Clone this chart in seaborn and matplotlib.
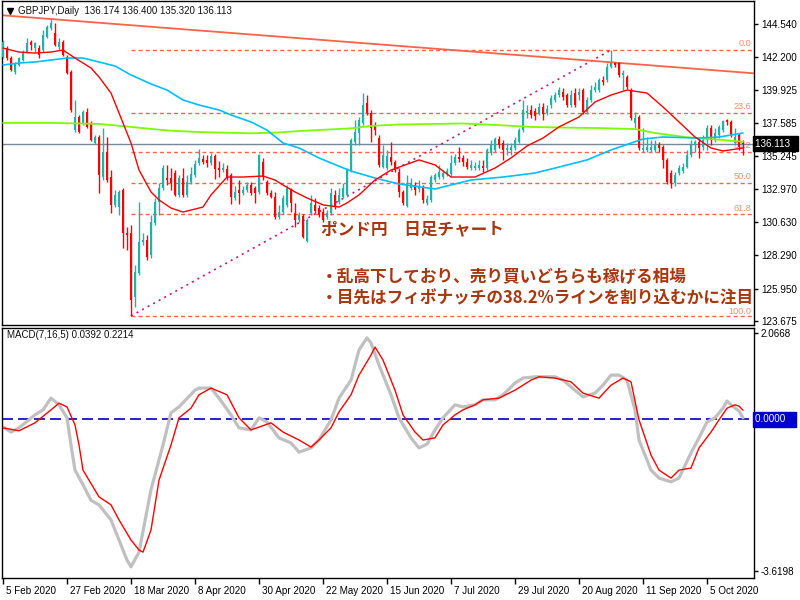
import matplotlib
matplotlib.use("Agg")
import matplotlib.pyplot as plt
import matplotlib.transforms as mtrans
import numpy as np
import seaborn as sns

# ---------------- data ----------------
tick_labels = ["5 Feb 2020", "27 Feb 2020", "18 Mar 2020", "8 Apr 2020", "30 Apr 2020",
               "22 May 2020", "15 Jun 2020", "7 Jul 2020", "29 Jul 2020", "20 Aug 2020",
               "11 Sep 2020", "5 Oct 2020"]
tick_bars = [0, 16, 32, 48, 64, 80, 96, 112, 128, 144, 160, 176]

price_ticks = [144.540, 142.200, 139.925, 137.585, 135.245, 132.970, 130.630, 128.290, 125.950, 123.675]
macd_ticks = [2.0668, -3.6198]

opens = [
    142.22, 142.85, 142.15, 141.17, 141.66, 142.01, 142.57, 143.28, 142.85, 142.85,
    142.71, 143.63, 144.26, 143.91, 142.92, 143.28, 142.22, 141.17, 137.09, 138.01,
    137.59, 138.36, 137.59, 136.18, 136.60, 133.79, 135.55, 133.79, 131.83, 131.68,
    132.88, 129.86, 129.86, 125.36, 127.05, 129.23, 129.37, 128.31, 130.56, 132.04,
    133.02, 133.72, 133.72, 134.07, 132.53, 133.72, 132.53, 133.44, 133.93, 134.78,
    135.06, 134.99, 134.78, 135.27, 134.42, 134.28, 134.35, 133.93, 132.32, 132.88,
    132.67, 132.88, 133.23, 133.02, 132.74, 134.85, 133.44, 132.67, 132.39, 130.98,
    131.33, 131.83, 132.88, 131.26, 130.77, 131.05, 129.30, 131.26, 131.83, 131.61,
    131.33, 130.98, 131.26, 132.53, 132.04, 132.39, 132.53, 134.28, 136.25, 136.88,
    137.59, 138.99, 138.29, 137.45, 136.53, 134.49, 134.42, 135.20, 134.85, 134.14,
    132.74, 131.75, 133.02, 133.23, 132.95, 133.09, 131.97, 132.18, 133.58, 133.79,
    133.79, 134.00, 134.00, 134.78, 135.20, 135.13, 134.85, 134.42, 134.42, 134.42,
    134.56, 134.42, 135.47, 135.69, 136.46, 136.18, 135.69, 135.69, 135.83, 136.25,
    137.09, 138.29, 138.50, 138.43, 138.29, 138.71, 138.29, 138.85, 139.20, 139.55,
    139.76, 139.55, 138.85, 139.69, 139.55, 139.90, 138.36, 139.20, 139.90, 139.90,
    140.61, 140.61, 141.52, 141.80, 141.80, 140.96, 140.82, 139.90, 137.59, 138.01,
    135.69, 135.69, 135.69, 135.69, 136.04, 135.90, 134.99, 134.07, 133.37, 134.07,
    134.21, 134.49, 135.34, 136.04, 136.25, 135.90, 136.39, 137.23, 136.39, 136.74,
    137.09, 137.80, 137.66, 136.18, 136.74, 136.174]
highs = [
    143.42, 143.00, 142.29, 141.87, 142.22, 142.71, 143.56, 143.42, 143.28, 143.07,
    144.12, 144.47, 144.89, 144.61, 143.56, 143.42, 142.36, 141.31, 139.20, 138.15,
    138.50, 138.64, 137.73, 136.74, 136.74, 137.23, 136.60, 134.28, 132.88, 132.88,
    133.02, 130.28, 130.42, 127.61, 132.04, 129.86, 129.72, 131.12, 132.32, 133.37,
    134.64, 134.64, 134.42, 134.28, 133.93, 134.42, 133.93, 134.49, 134.99, 135.76,
    135.34, 135.34, 135.47, 135.40, 134.92, 134.78, 134.64, 134.07, 133.16, 133.58,
    133.16, 133.44, 133.44, 133.16, 135.40, 135.13, 133.58, 132.88, 132.74, 131.83,
    132.53, 133.23, 133.02, 131.97, 131.33, 131.19, 130.91, 132.53, 132.32, 131.83,
    131.61, 131.47, 133.02, 132.88, 133.02, 133.37, 134.42, 136.53, 137.80, 138.01,
    139.69, 139.55, 138.50, 137.66, 136.74, 136.04, 135.69, 136.25, 134.99, 134.42,
    132.88, 133.93, 133.72, 133.44, 133.58, 133.23, 132.53, 133.93, 134.07, 134.64,
    134.28, 134.42, 135.34, 135.40, 135.90, 135.34, 135.13, 134.99, 134.85, 134.99,
    134.99, 135.83, 136.39, 136.60, 136.67, 136.39, 136.18, 136.18, 136.60, 137.23,
    139.20, 138.85, 138.85, 138.64, 138.99, 138.99, 138.85, 139.55, 139.76, 140.11,
    140.04, 139.69, 139.90, 140.04, 140.04, 140.04, 139.41, 140.25, 140.46, 140.75,
    140.89, 141.80, 142.71, 141.87, 141.87, 141.31, 140.96, 140.04, 138.36, 138.15,
    137.23, 136.60, 136.39, 136.39, 136.25, 136.04, 135.13, 134.28, 134.14, 134.64,
    134.78, 135.69, 136.39, 136.39, 136.53, 136.74, 137.45, 137.45, 137.23, 137.45,
    137.80, 137.87, 137.80, 137.23, 136.88, 136.400]
lows = [
    142.15, 142.01, 141.24, 141.03, 141.59, 141.94, 142.50, 142.71, 142.57, 142.15,
    142.57, 143.56, 144.12, 143.00, 142.71, 142.29, 141.03, 138.36, 136.95, 136.88,
    137.45, 137.23, 136.32, 136.11, 132.67, 133.58, 133.44, 131.26, 131.68, 131.12,
    128.80, 128.66, 124.03, 124.66, 126.91, 129.01, 127.96, 128.10, 130.42, 131.12,
    132.88, 133.23, 132.88, 132.46, 132.39, 132.39, 132.39, 133.30, 133.79, 134.64,
    134.71, 134.49, 134.64, 133.65, 133.79, 134.14, 133.58, 131.90, 132.18, 131.90,
    132.53, 132.74, 132.53, 131.97, 132.60, 133.58, 132.53, 132.32, 130.84, 130.84,
    131.19, 131.68, 131.33, 130.28, 130.63, 129.51, 129.23, 131.12, 131.26, 130.98,
    130.63, 130.84, 131.12, 131.54, 131.90, 132.32, 132.39, 134.14, 136.04, 136.04,
    137.45, 138.15, 136.25, 136.74, 134.49, 134.42, 134.28, 134.64, 134.14, 132.39,
    131.83, 131.68, 132.88, 132.53, 132.74, 131.97, 131.83, 132.04, 133.44, 133.65,
    133.65, 133.86, 133.86, 134.64, 134.85, 134.56, 134.35, 134.28, 134.28, 134.28,
    134.14, 134.28, 135.34, 135.55, 135.83, 134.99, 135.34, 135.34, 135.69, 136.18,
    136.95, 137.94, 137.94, 137.80, 138.15, 137.80, 138.15, 138.64, 139.06, 139.41,
    139.20, 138.71, 138.71, 138.71, 139.20, 138.22, 138.22, 139.06, 139.76, 139.76,
    140.25, 140.46, 141.45, 141.52, 140.82, 139.90, 139.97, 137.80, 137.23, 135.69,
    135.55, 135.55, 135.55, 135.55, 135.55, 134.42, 133.30, 133.02, 133.16, 133.93,
    134.07, 134.42, 135.20, 135.55, 135.13, 135.69, 135.69, 136.04, 136.25, 136.53,
    136.95, 137.45, 136.60, 136.04, 135.69, 135.320]
closes = [
    143.28, 142.15, 141.31, 141.80, 142.15, 142.57, 143.21, 143.07, 143.21, 142.36,
    143.77, 144.33, 144.61, 143.07, 143.28, 142.36, 141.10, 138.50, 138.01, 136.95,
    138.36, 137.31, 136.39, 136.60, 133.93, 135.55, 133.58, 131.83, 132.53, 132.74,
    129.86, 129.72, 125.15, 127.12, 129.23, 129.37, 128.17, 130.63, 132.04, 133.02,
    134.42, 133.58, 133.37, 132.53, 133.72, 132.53, 133.44, 134.00, 134.71, 135.13,
    134.85, 134.78, 135.27, 134.35, 134.28, 134.42, 133.79, 132.39, 132.74, 132.67,
    132.88, 133.23, 132.67, 132.67, 135.34, 133.79, 132.67, 132.39, 130.98, 131.33,
    132.32, 133.02, 131.97, 130.77, 131.12, 129.58, 130.77, 131.97, 131.40, 131.12,
    130.77, 131.26, 132.67, 131.68, 132.53, 133.02, 134.28, 136.39, 136.95, 137.80,
    138.85, 138.29, 137.23, 137.09, 134.64, 135.34, 135.27, 134.85, 134.28, 132.74,
    131.97, 133.37, 133.37, 132.88, 133.09, 132.18, 132.25, 133.79, 133.93, 134.14,
    134.07, 134.21, 134.78, 135.20, 135.06, 134.85, 134.49, 134.64, 134.56, 134.64,
    134.42, 135.69, 136.04, 136.46, 136.04, 135.69, 135.83, 135.90, 136.39, 137.09,
    138.50, 138.43, 138.15, 138.08, 138.71, 138.22, 138.57, 139.34, 139.55, 139.90,
    139.41, 138.85, 139.55, 138.85, 139.76, 138.36, 139.20, 139.90, 140.11, 140.61,
    140.46, 141.52, 141.80, 141.66, 140.96, 141.10, 140.11, 137.94, 137.94, 135.83,
    135.83, 135.90, 135.90, 136.04, 135.83, 134.99, 133.44, 133.37, 133.93, 134.42,
    134.49, 135.34, 136.04, 136.25, 135.83, 136.39, 137.23, 136.39, 136.88, 137.31,
    137.73, 137.66, 136.74, 136.60, 135.90, 136.113]

# fast MA (red)
ma_red_bars = [0, 4, 8, 12, 15, 18, 22, 24, 27, 29, 32, 34, 37, 39, 42, 45, 50, 52, 56, 60,
               65, 68, 70, 73, 76, 80, 84, 86, 89, 93, 97, 104, 108, 112, 118, 123, 127, 131,
               135, 139, 144, 148, 152, 156, 161, 165, 169, 173, 177, 180, 185]
ma_red = [142.85, 142.57, 142.50, 142.57, 142.71, 142.15, 141.45, 140.82, 139.69, 138.29,
          136.18, 134.28, 132.74, 132.18, 131.61, 131.33, 131.68, 132.53, 133.79, 133.79,
          133.86, 133.58, 133.23, 132.74, 132.32, 131.83, 131.68, 131.97, 132.53, 133.58,
          134.28, 134.99, 134.64, 133.79, 133.79, 134.42, 135.13, 135.97, 136.53, 137.31,
          138.01, 139.06, 139.55, 139.90, 139.69, 138.71, 137.66, 136.60, 135.83, 135.62,
          135.83]
# middle MA (blue)
ma_blue_bars = [0, 4, 8, 12, 16, 20, 24, 28, 32, 37, 41, 45, 49, 54, 57, 62, 66, 70, 74, 79,
                82, 87, 93, 99, 108, 117, 125, 133, 139, 146, 152, 160, 165, 174, 179, 185]
ma_blue = [141.66, 141.80, 141.87, 142.01, 142.15, 142.15, 141.87, 141.59, 140.96, 140.33,
           139.90, 139.20, 138.85, 138.50, 138.15, 137.66, 137.09, 136.18, 135.83, 135.13,
           134.78, 134.21, 133.72, 133.30, 132.95, 133.58, 133.79, 134.07, 134.49, 134.99,
           135.69, 136.46, 136.60, 136.53, 136.60, 136.88]
# slow MA (green)
ma_green_bars = [0, 12, 24, 32, 41, 49, 62, 69, 74, 87, 92, 99, 115, 123, 132, 139, 149, 158,
                 163, 171, 180, 185]
ma_green = [137.59, 137.59, 137.52, 137.31, 137.06, 136.95, 136.86, 136.92, 137.02, 137.21,
            137.38, 137.48, 137.55, 137.45, 137.31, 137.27, 137.23, 137.16, 136.88, 136.58,
            136.39, 136.27]

# trendline object
trend_bars = [-1, 188]
trend_prices = [145.17, 141.07]

# Fibonacci retracement
fib_low_bar, fib_high_bar = 32, 152
fib_low, fib_high = 124.03, 142.71
fib_levels = [0.0, 23.6, 38.2, 50.0, 61.8, 100.0]
last_price = 136.113

# MACD(7,16,5)
macd_bars = [0, 2, 4, 8, 10, 12, 14, 16, 17, 18, 20, 22, 24, 27, 29, 31, 32, 34, 37, 40,
             42, 44, 48, 49, 52, 54, 57, 59, 62, 64, 66, 69, 72, 74, 77, 79, 82, 84, 87, 89,
             91, 92, 94, 97, 99, 102, 104, 106, 108, 110, 113, 115, 118, 120, 123, 125, 128,
             130, 133, 135, 138, 140, 143, 145, 148, 150, 152, 154, 156, 158, 159, 161, 162,
             164, 167, 169, 172, 174, 176, 178, 180, 181, 182, 184, 185]
macd_main = [-0.18, -0.30, -0.20, 0.11, 0.23, 0.51, 0.35, 0.04, -0.61, -1.21, -1.56, -1.93,
             -2.04, -2.40, -2.88, -3.36, -3.52, -3.17, -1.68, -0.61, 0.16, 0.30, 0.70, 0.75,
             0.75, 0.51, 0.11, -0.20, -0.25, 0.04, -0.06, -0.44, -0.56, -0.78, -0.68, -0.49,
             -0.01, 0.51, 0.94, 1.66, 1.95, 1.83, 1.30, 0.59, 0.04, -0.44, -0.68, -0.59, -0.25,
             0.04, 0.35, 0.30, 0.35, 0.47, 0.47, 0.59, 0.87, 0.99, 1.02, 1.02, 1.02, 0.94, 0.70,
             0.54, 0.63, 0.82, 1.06, 1.06, 0.94, 0.23, -0.49, -0.97, -1.21, -1.40, -1.49, -1.40,
             -0.80, -0.44, -0.06, 0.04, 0.27, 0.44, 0.35, 0.20, 0.0392]
signal_bars = [0, 4, 8, 12, 14, 16, 18, 19, 20, 24, 27, 29, 32, 34, 35, 37, 39, 42, 44, 47,
               49, 52, 56, 59, 62, 67, 70, 74, 77, 79, 82, 84, 87, 89, 92, 93, 95, 98, 100,
               103, 105, 108, 110, 113, 115, 118, 120, 124, 128, 132, 134, 138, 142, 145, 149,
               152, 155, 157, 159, 162, 164, 167, 169, 172, 174, 177, 179, 181, 183, 184, 185]
macd_signal = [-0.20, -0.27, -0.08, 0.23, 0.39, 0.30, -0.13, -0.61, -1.21, -1.85, -2.04,
               -2.40, -2.88, -3.12, -3.17, -2.64, -1.45, -0.61, 0.04, 0.27, 0.59, 0.75, 0.59,
               0.04, -0.25, -0.08, -0.30, -0.49, -0.66, -0.49, -0.20, 0.18, 0.59, 1.06, 1.54,
               1.73, 1.42, 0.70, 0.11, -0.30, -0.49, -0.44, -0.13, 0.11, 0.23, 0.35, 0.47, 0.51,
               0.70, 0.94, 1.02, 0.99, 0.90, 0.63, 0.51, 0.82, 0.99, 0.90, -0.01, -0.85, -1.21,
               -1.40, -1.21, -1.16, -0.68, -0.30, -0.01, 0.27, 0.35, 0.32, 0.2214]

title_text = "GBPJPY,Daily  136.174 136.400 135.320 136.113"
macd_title = "MACD(7,16,5) 0.0392 0.2214"
jp_title = "ポンド円　日足チャート"
jp_lines = ["・乱高下しており、売り買いどちらも稼げる相場",
            "・目先はフィボナッチの38.2%ラインを割り込むかに注目"]

assert len(opens) == len(highs) == len(lows) == len(closes)

# ---------------- style ----------------
sns.set_style("white")
plt.rcParams['font.family'] = ['Liberation Sans', 'DejaVu Sans', 'Noto Sans CJK JP']
SMALL = 7.1
BULL, BEAR = '#20B2AA', '#FF0000'
FIBC = '#FF6347'
JPC = '#A8360E'

fig = plt.figure(figsize=(8, 6), dpi=100)
fig.patch.set_facecolor('white')
ax1 = fig.add_axes([2 / 800, 1 - 325 / 600, 752 / 800, 324 / 600])
ax2 = fig.add_axes([2 / 800, 22 / 600, 752 / 800, 250 / 600])

xlim = (-0.25, 187.75)

# ---------------- price panel ----------------
o = np.array(opens); h = np.array(highs); l = np.array(lows); c = np.array(closes)
bars = np.arange(len(c))
cols = np.where(c >= o, BULL, BEAR)

# fib levels
rng = fib_high - fib_low
for lev in fib_levels:
    p = fib_high - rng * lev / 100.0
    ax1.plot([fib_low_bar, xlim[1] + 5], [p, p], color=FIBC, lw=1.0, dashes=(2.9, 2.2), zorder=1)
    dy = 0.03 if lev == 100.0 else 0.12
    ax1.text(xlim[1] - 0.6, p + dy, f"{lev:.1f}", color='#FF8A6A', fontsize=6.6,
             ha='right', va='bottom', zorder=1)

# current price line
ax1.axhline(last_price, color='#778899', lw=1.0, zorder=1.5)

# fib anchor line (dotted)
ax1.plot([fib_low_bar, fib_high_bar], [fib_low, fib_high], color='#C71585', lw=1.2,
         dashes=(1.2, 2.6), zorder=2)
# trendline
ax1.plot(trend_bars, trend_prices, color='#FF6347', lw=1.3, zorder=2)

# candles
ax1.vlines(bars, l, h, colors=cols, lw=1.0, zorder=3)
body = np.maximum(np.abs(c - o), 0.035)
ax1.bar(bars, body, bottom=np.minimum(o, c), width=0.74, color=cols, linewidth=0, zorder=3)

# moving averages
sns.lineplot(x=ma_green_bars, y=ma_green, ax=ax1, color='#7CFC00', lw=1.3, estimator=None,
             legend=False, zorder=4)
sns.lineplot(x=ma_blue_bars, y=ma_blue, ax=ax1, color='#00BFFF', lw=1.2, estimator=None,
             legend=False, zorder=4)
sns.lineplot(x=ma_red_bars, y=ma_red, ax=ax1, color='#FF0000', lw=1.0, estimator=None,
             legend=False, zorder=4)

ax1.set_xlim(*xlim)
ax1.set_ylim(123.394, 146.156)
ax1.set_xlabel(''); ax1.set_ylabel('')
ax1.set_xticks([])
ax1.yaxis.tick_right()
ax1.set_yticks(price_ticks)
ax1.set_yticklabels([f"{v:.3f}" for v in price_ticks])
ax1.tick_params(axis='y', right=True, length=3, width=1, pad=2, labelsize=SMALL,
                colors='black', direction='out')

# current price box
tr1 = mtrans.blended_transform_factory(ax1.transAxes, ax1.transData)
ax1.text(1.0015, last_price, f"{last_price:.3f}  ", transform=tr1, fontsize=SMALL, color='white',
         ha='left', va='center', clip_on=False, zorder=10,
         bbox=dict(boxstyle='square,pad=0.25', fc='black', ec='black'))

# title
ax1.plot([0.011], [0.969], marker='v', color='black', ms=4.2, transform=ax1.transAxes,
         clip_on=False)
ax1.text(0.021, 0.969, title_text, transform=ax1.transAxes, fontsize=7.0, color='#111111',
         ha='left', va='center')

# Japanese annotations
jp_font = ['Noto Sans CJK JP', 'DejaVu Sans']
JPS = 12
ax1.text(0.4245, 0.296, jp_title, transform=ax1.transAxes, family=jp_font, fontweight='bold',
         fontsize=JPS, color=JPC, ha='left', va='center', zorder=6, clip_on=True)
ax1.text(0.4245, 0.147, jp_lines[0], transform=ax1.transAxes, family=jp_font,
         fontweight='bold', fontsize=JPS, color=JPC, ha='left', va='center', zorder=6,
         clip_on=True)
ax1.text(0.4245, 0.082, jp_lines[1], transform=ax1.transAxes, family=jp_font,
         fontweight='bold', fontsize=JPS, color=JPC, ha='left', va='center', zorder=6,
         clip_on=True)

# ---------------- MACD panel ----------------
ax2.axhline(0, color='#0000CD', lw=1.2, dashes=(6.6, 3.0), zorder=1)
sns.lineplot(x=macd_bars, y=macd_main, ax=ax2, color='#C0C0C0', lw=2.3, estimator=None,
             legend=False, zorder=2)
sns.lineplot(x=signal_bars, y=macd_signal, ax=ax2, color='#FF0000', lw=1.0, estimator=None,
             legend=False, zorder=3)
ax2.set_xlim(*xlim)
ax2.set_ylim(-3.788, 2.186)
ax2.set_xlabel(''); ax2.set_ylabel('')
ax2.yaxis.tick_right()
ax2.set_yticks(macd_ticks)
ax2.set_yticklabels([f"{v:.4f}" for v in macd_ticks])
ax2.tick_params(axis='y', right=True, length=3, width=1, pad=2, labelsize=SMALL,
                colors='black', direction='out')
ax2.set_xticks(tick_bars)
ax2.set_xticklabels(tick_labels, ha='left')
ax2.tick_params(axis='x', bottom=True, length=4, width=1, pad=1.5, labelsize=SMALL,
                colors='black', direction='out')
offset = mtrans.ScaledTranslation(2 / 72, 0, fig.dpi_scale_trans)
for lab in ax2.get_xticklabels():
    lab.set_transform(lab.get_transform() + offset)

tr2 = mtrans.blended_transform_factory(ax2.transAxes, ax2.transData)
ax2.text(1.0015, 0.0, "0.0000   ", transform=tr2, fontsize=SMALL, color='white',
         ha='left', va='center', clip_on=False, zorder=10,
         bbox=dict(boxstyle='square,pad=0.25', fc='#0000CD', ec='#0000CD'))
ax2.text(0.007, 0.972, macd_title, transform=ax2.transAxes, fontsize=7.0, color='#111111',
         ha='left', va='center')

for ax in (ax1, ax2):
    for s in ax.spines.values():
        s.set_color('black')
        s.set_linewidth(1.0)
        s.set_visible(True)

fig.savefig('out.png', dpi=100, facecolor='white')
